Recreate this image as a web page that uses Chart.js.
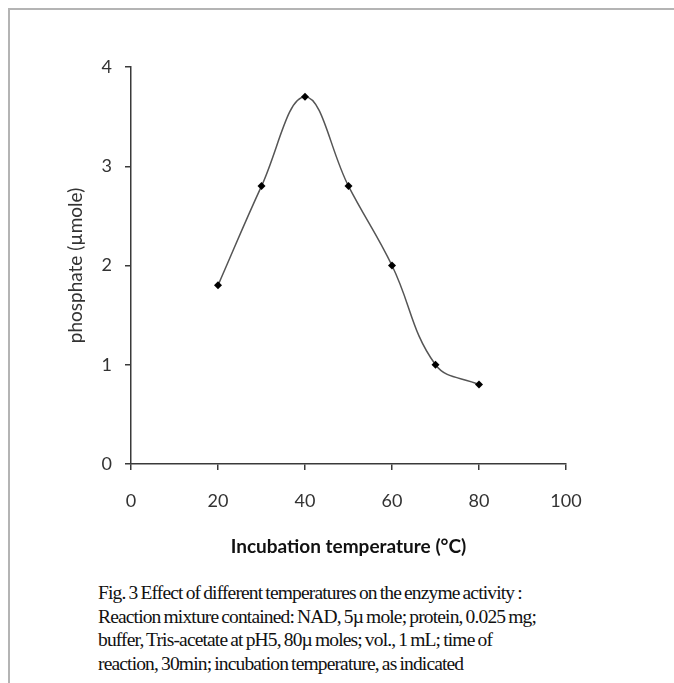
<!DOCTYPE html>
<html>
<head>
<meta charset="utf-8">
<script src="https://cdn.jsdelivr.net/npm/chart.js@4.4.0/dist/chart.umd.min.js"></script>
<style>
  body { margin: 0; background: #fff; width: 674px; height: 683px; overflow: hidden; position: relative; }
  #frame { position: absolute; left: 8px; top: 8px; width: 666px; height: 675px;
           border-top: 2px solid #b4b4b4; border-left: 2px solid #b4b4b4; box-sizing: border-box; }
  #chart { position: absolute; left: 0; top: 0; }
  #caption { position: absolute; left: 98px; top: 581px; width: 570px; white-space: nowrap;
             font-family: "Liberation Serif", "Times New Roman", serif; font-size: 19.5px;
             line-height: 23.5px; letter-spacing: -0.85px; word-spacing: -1px; color: #111; }
</style>
</head>
<body>
<div id="frame"></div>
<canvas id="chart" width="674" height="570"></canvas>
<div id="caption">Fig. 3 Effect of different temperatures on the enzyme activity :<br>
Reaction mixture contained: NAD, 5µ mole; protein, 0.025 mg;<br>
buffer, Tris-acetate at pH5, 80µ moles; vol., 1 mL; time of<br>
reaction, 30min; incubation temperature, as indicated</div>
<script>
// data
const temperatures = [20, 30, 40, 50, 60, 70, 80];
const phosphate = [1.8, 2.8, 3.7, 2.8, 2.0, 1.0, 0.8];
const xLabel = "Incubation temperature (°C)";
const yLabel = "phosphate (µmole)";

Chart.defaults.font.family = "Lato, 'Open Sans', sans-serif";
Chart.defaults.color = "#333";

const points = temperatures.map((t, i) => ({ x: t, y: phosphate[i] }));
const axisColor = "#3a3a3a";

const ctx = document.getElementById("chart").getContext("2d");
const chart = new Chart(ctx, {
    type: "line",
    data: {
        datasets: [{
            data: points,
            borderColor: "#555",
            borderWidth: 1.5,
            tension: 0.4,
            pointStyle: "rectRot",
            pointRadius: 4,
            pointBackgroundColor: "#000",
            pointBorderColor: "#000",
            pointBorderWidth: 0
        }]
    },
    options: {
        responsive: false,
        animation: false,
        devicePixelRatio: 1,
        layout: { padding: { top: 67, right: 108, left: 65, bottom: 0 } },
        plugins: { legend: { display: false }, tooltip: { enabled: false } },
        scales: {
            x: {
                type: "linear",
                min: 0, max: 100,
                ticks: { stepSize: 20, padding: 20, color: "#333", font: { size: 18 } },
                grid: { drawOnChartArea: false, tickLength: 6, color: axisColor, lineWidth: 1.5 },
                border: { color: axisColor, width: 1.5 },
                title: { display: true, text: xLabel, color: "#111",
                         font: { size: 19, weight: "bold" }, padding: { top: 0, bottom: 12 } },
                afterFit: (scale) => { scale.height = 106; }
            },
            y: {
                min: 0, max: 4,
                ticks: { stepSize: 1, padding: 13, color: "#333", font: { size: 18 } },
                grid: { drawOnChartArea: false, tickLength: 6, color: axisColor, lineWidth: 1.5 },
                border: { color: axisColor, width: 1.5 },
                title: { display: true, text: yLabel, color: "#333",
                         font: { size: 19 }, padding: { top: -1, bottom: 0 } },
                afterFit: (scale) => { scale.width = 66; }
            }
        }
    }
});
</script>
</body>
</html>
